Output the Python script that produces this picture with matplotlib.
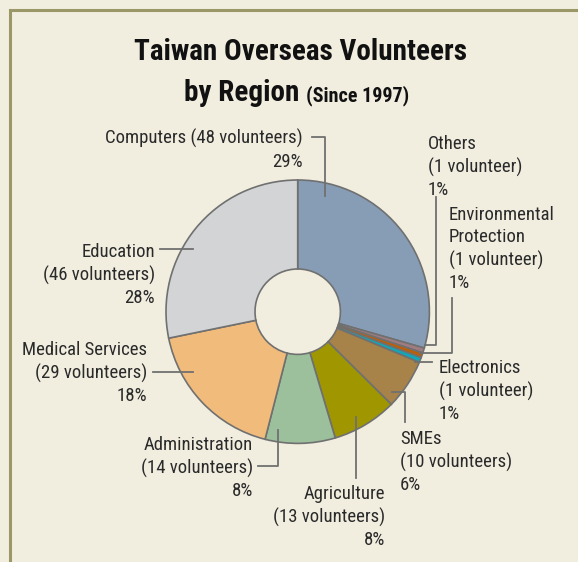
import matplotlib
matplotlib.use("Agg")
import matplotlib.pyplot as plt
from matplotlib import font_manager

# data
categories = ["Computers", "Others", "Environmental\nProtection", "Electronics", "SMEs",
              "Agriculture", "Administration", "Medical Services", "Education"]
volunteers = [48, 1, 1, 1, 10, 13, 14, 29, 46]
percents = ["29%", "1%", "1%", "1%", "6%", "8%", "8%", "18%", "28%"]
colors = ["#879db5", "#a07c82", "#b8600e", "#12a7b8", "#a7834a",
          "#a09700", "#9cc09b", "#f1bb7b", "#d3d4d6"]

W, H = 578, 562
bg = "#f1eee0"
edge = "#707070"

# pick a condensed sans if one is around
names = set(f.name for f in font_manager.fontManager.ttflist)
wanted = ["Roboto Condensed", "Archivo Narrow", "PT Sans Narrow", "Liberation Sans Narrow",
          "Fira Sans Condensed", "IBM Plex Sans Condensed", "Encode Sans Condensed",
          "Asap Condensed", "Barlow Semi Condensed", "Roboto"]
narrow = next((n for n in wanted if n in names), "DejaVu Sans")
plt.rcParams['font.family'] = [narrow, 'DejaVu Sans']

fig = plt.figure(figsize=(W / 100, H / 100), dpi=100, facecolor=bg)
ax = fig.add_axes([0, 0, 1, 1])


def px(x, y):
    # pixel position (from top-left) to data coords
    return x, H - y


# donut
cx, cy = px(297.7, 311.7)
R = 131.7
ax.pie(volunteers, colors=colors, startangle=90, counterclock=False, radius=R,
       center=(cx, cy), frame=True,
       wedgeprops=dict(width=R - 42.7, edgecolor=edge, linewidth=1.2))
ax.set_xlim(0, W)
ax.set_ylim(0, H)
ax.set_aspect('equal')
ax.axis('off')

# frame
ax.plot([10, 10, W + 5], [-5, H - 10, H - 10], color="#9b9767", lw=2.2, solid_joinstyle='miter')

# title
tkw = dict(fontweight='bold', color='#111111', va='baseline')
ax.text(*px(300, 60), "Taiwan Overseas Volunteers", ha='center', fontsize=21, **tkw)
ax.text(*px(299, 101), "by Region", ha='right', fontsize=21, **tkw)
ax.text(*px(306, 101), "(Since 1997)", ha='left', fontsize=14.5, **tkw)

# labels: (anchor x, first line centre y, alignment)
label_pos = [(303, 137, 'right'), (428, 143, 'left'), (449, 214, 'left'), (439, 367, 'left'),
             (400, 438, 'left'), (385, 493, 'right'), (253, 444, 'right'), (147, 349, 'right'),
             (155, 251, 'right')]
leaders = [
    [(312, 137), (325, 137), (325, 196)],
    [(436, 197), (436, 345), (425, 345)],
    [(452, 298), (452, 353), (420, 353)],
    [(432, 362), (415, 362)],
    [(392, 392), (405, 392), (405, 422)],
    [(356, 417), (356, 478)],
    [(258, 466), (278, 466), (278, 430)],
    [(153, 372), (193, 372)],
    [(160, 249), (193, 249)],
]

for name, n, pct, (lx, ly, ha) in zip(categories, volunteers, percents, label_pos):
    unit = "volunteer" if n == 1 else "volunteers"
    if name == "Computers":
        txt = f"{name} ({n} {unit})\n{pct}"
    else:
        txt = f"{name}\n({n} {unit})\n{pct}"
    x, y = px(lx, ly)
    ax.text(x, y + 8, txt, ha=ha, va='top', multialignment=ha, fontsize=13.5,
            color='#2a2a2a', linespacing=1.31)

for pts in leaders:
    xs = [p[0] for p in pts]
    ys = [H - p[1] for p in pts]
    ax.plot(xs, ys, color=edge, lw=1.3)

fig.savefig("out.png", dpi=100, facecolor=bg)
